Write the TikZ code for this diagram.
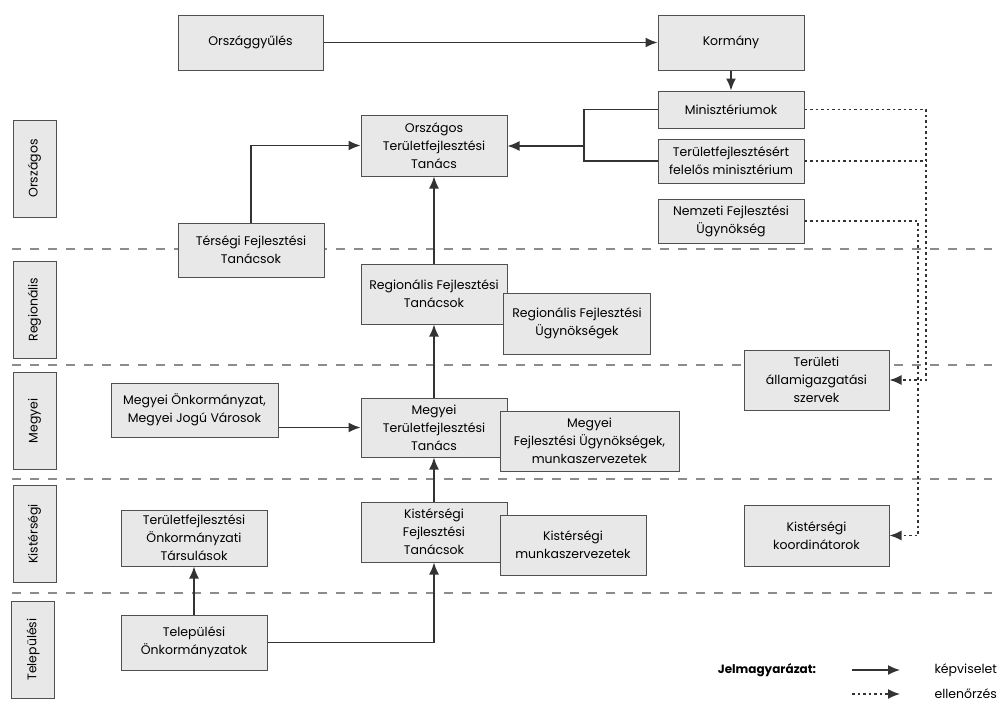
\documentclass[tikz,border=0pt]{standalone}
\usepackage{fontspec}
\setmainfont{Poppins}
\usetikzlibrary{arrows.meta}
\definecolor{boxfill}{HTML}{E8E8E8}
\definecolor{boxline}{HTML}{505050}
\definecolor{wire}{HTML}{333333}
\tikzstyle{box}=[draw=boxline,fill=boxfill,line width=1pt,align=center,inner sep=2pt,font=\fontsize{12.5}{18}\selectfont]
\tikzstyle{level}=[box,rotate=90,minimum width=97pt,minimum height=43pt]
\tikzstyle{rep}=[draw=wire,line width=1.5pt,-{Latex[length=12pt,width=10pt]}]
\tikzstyle{ctl}=[draw=wire,line width=1.5pt,dash pattern=on 2.5pt off 3pt,-{Latex[length=12pt,width=10pt]}]
\tikzstyle{sep}=[draw=black!45,line width=1.2pt,dash pattern=on 9pt off 9pt]

\begin{document}
\begin{tikzpicture}[x=1pt,y=-1pt]
\useasboundingbox[fill=white] (0,0) rectangle (1004,704);
% level separators
\coordinate (S0) at (12,249);
\coordinate (S1) at (12,365);
\coordinate (S2) at (12,479);
\coordinate (S3) at (12,593);
\draw[sep] (S0) -- +(980,0);
\draw[sep] (S1) -- +(980,0);
\draw[sep] (S2) -- +(980,0);
\draw[sep] (S3) -- +(980,0);
% levels
\node[level] (LOrsz) at (34.5,168.5) {Országos};
\node[level] (LReg) at (34.5,309.5) {Regionális};
\node[level] (LMegy) at (34.5,421) {Megyei};
\node[level] (LKist) at (34.5,534) {Kistérségi};
\node[level] (LTel) at (33,649.5) {Települési};
% boxes
\node[box, minimum width=145pt, minimum height=55pt] (OGY) at (250.5,42.5) {Országgyűlés};
\node[box, minimum width=146pt, minimum height=55pt] (Korm) at (731,42.5) {Kormány};
\node[box, minimum width=146pt, minimum height=37pt] (Min) at (731,109.5) {Minisztériumok};
\node[box, minimum width=146pt, minimum height=44pt] (TFM) at (731,161) {Területfejlesztésért\\felelős minisztérium};
\node[box, minimum width=146pt, minimum height=44pt] (NFU) at (731,221) {Nemzeti Fejlesztési\\Ügynökség};
\node[box, minimum width=146pt, minimum height=61pt] (OTT) at (434,145.5) {Országos\\Területfejlesztési\\Tanács};
\node[box, minimum width=146pt, minimum height=54pt] (TFT) at (251,250) {Térségi Fejlesztési\\Tanácsok};
\node[box, minimum width=146pt, minimum height=60pt] (RFT) at (434,294) {Regionális Fejlesztési\\Tanácsok};
\node[box, minimum width=147pt, minimum height=61pt] (RFU) at (577,323.5) {Regionális Fejlesztési\\Ügynökségek};
\node[box, minimum width=167pt, minimum height=54pt] (MO) at (194.5,410) {Megyei Önkormányzat,\\Megyei Jogú Városok};
\node[box, minimum width=146pt, minimum height=59pt] (MTT) at (434,427.5) {Megyei\\Területfejlesztési\\Tanács};
\node[box, minimum width=179pt, minimum height=60pt] (MFU) at (589.5,441) {Megyei\\Fejlesztési Ügynökségek,\\munkaszervezetek};
\node[box, minimum width=146pt, minimum height=60pt] (KFT) at (434,532) {Kistérségi\\Fejlesztési\\Tanácsok};
\node[box, minimum width=146pt, minimum height=60pt] (KMSZ) at (573,545) {Kistérségi\\munkaszervezetek};
\node[box, minimum width=146pt, minimum height=56pt] (TOT) at (194,538) {Területfejlesztési\\Önkormányzati\\Társulások};
\node[box, minimum width=146pt, minimum height=55pt] (TO) at (194,642.5) {Települési\\Önkormányzatok};
\node[box, minimum width=145pt, minimum height=60pt] (TASZ) at (816.5,380) {Területi\\államigazgatási\\szervek};
\node[box, minimum width=145pt, minimum height=61pt] (KK) at (816.5,535.5) {Kistérségi\\koordinátorok};
% representation
\coordinate (J) at (584,146);
\draw[rep] (OGY) -- (Korm);
\draw[rep] (Korm) -- (Min);
\draw[draw=wire,line width=1.5pt] (Min.west) -| (J) |- (TFM.west);
\draw[rep] (J) -- (J -| OTT.east);
\draw[rep] (TFT.north) |- (OTT.west);
\draw[rep] (RFT) -- (OTT);
\draw[rep] (MTT) -- (RFT);
\draw[rep] (MO.east |- MTT.west) -- (MTT.west);
\draw[rep] (KFT) -- (MTT);
\draw[rep] (TO) -- (TOT);
\draw[rep] (TO.east) -| (KFT.south);
% control
\coordinate (C1) at (926,380);
\coordinate (C2) at (918,535.5);
\draw[ctl] (Min.east) -| (C1) -- (TASZ.east);
\draw[ctl,-] (TFM.east) -- (TFM.east -| C1);
\draw[ctl] (NFU.east) -| (C2) -- (KK.east);
% legend
\node[font=\fontsize{12}{14}\selectfont\bfseries] (Jel) at (767,670) {Jelmagyarázat:};
\coordinate (L1) at (852,670);
\coordinate (L2) at (852,694);
\draw[rep] (L1) -- +(48,0);
\draw[ctl] (L2) -- +(48,0);
\node[anchor=west,font=\fontsize{12.5}{14}\selectfont] (Kep) at (931,670) {képviselet};
\node[anchor=west,font=\fontsize{12.5}{14}\selectfont] (Ell) at (931,694) {ellenőrzés};
\end{tikzpicture}
\end{document}
